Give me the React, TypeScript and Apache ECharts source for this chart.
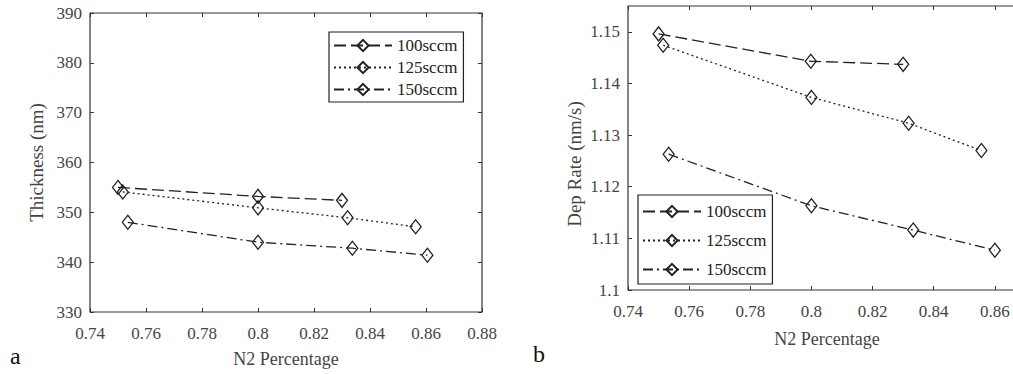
import React, { useEffect, useRef } from "react";
import * as echarts from "echarts";

const seriesNames = ["100sccm", "125sccm", "150sccm"];

// Panel a: Thickness (nm) vs N2 Percentage
const thick100: [number, number][] = [[0.75, 355.0], [0.8, 353.2], [0.83, 352.4]];
const thick125: [number, number][] = [[0.7517, 354.1], [0.8, 350.9], [0.832, 348.9], [0.8563, 347.1]];
const thick150: [number, number][] = [[0.7535, 348.0], [0.8, 344.0], [0.8337, 342.8], [0.8605, 341.4]];

// Panel b: Dep Rate (nm/s) vs N2 Percentage
const rate100: [number, number][] = [[0.75, 1.1496], [0.7998, 1.1443], [0.83, 1.1437]];
const rate125: [number, number][] = [[0.7515, 1.1474], [0.8, 1.1373], [0.8318, 1.1323], [0.8556, 1.127]];
const rate150: [number, number][] = [[0.7533, 1.1263], [0.8, 1.1163], [0.8333, 1.1116], [0.86, 1.1077]];

const FONT = "Liberation Serif";
const INK = "#222";
const LABEL = "#444";

const dashTypes: any[] = [[12, 5], [2, 3], [10, 4, 2, 4]];

export default function App() {
  const ref = useRef<HTMLDivElement>(null);
  useEffect(() => {
    if (!ref.current) return;
    const chart = echarts.init(ref.current, undefined, { renderer: "svg" });

    const mkX = (gridIndex: number, pos: "bottom" | "top", withLabels: boolean, name: string, gap: number, pad: number[], showMax: boolean) => ({
      type: "value",
      gridIndex,
      position: pos,
      min: 0.74,
      max: 0.88,
      interval: 0.02,
      name: withLabels ? name : "",
      nameLocation: "middle",
      nameGap: gap,
      nameTextStyle: { fontFamily: FONT, fontSize: 18, color: LABEL, padding: pad },
      axisLine: { show: false },
      axisTick: { show: true, inside: true, length: 4, lineStyle: { color: "#333", width: 1 } },
      axisLabel: { show: withLabels, fontFamily: FONT, fontSize: 17, color: LABEL, margin: 13, showMaxLabel: showMax },
      splitLine: { show: false },
    });

    const mkY = (gridIndex: number, pos: "left" | "right", withLabels: boolean, name: string, min: number, max: number, interval: number, gap: number, pad: number[]) => ({
      type: "value",
      gridIndex,
      position: pos,
      min,
      max,
      interval,
      name: withLabels ? name : "",
      nameLocation: "middle",
      nameGap: gap,
      nameTextStyle: { fontFamily: FONT, fontSize: 19, color: LABEL, padding: pad },
      axisLine: { show: false },
      axisTick: { show: true, inside: true, length: 4, lineStyle: { color: "#333", width: 1 } },
      axisLabel: { show: withLabels, fontFamily: FONT, fontSize: 17, color: LABEL, margin: 8, showMaxLabel: max === 390 },
      splitLine: { show: false },
    });

    const mkSeries = (name: string, idx: number, data: [number, number][], axisIndex: number) => ({
      type: "line",
      name,
      data,
      xAxisIndex: axisIndex,
      yAxisIndex: axisIndex,
      symbol: "diamond",
      symbolSize: [11, 14],
      showSymbol: true,
      itemStyle: { color: "rgba(255,255,255,0)", borderColor: INK, borderWidth: 1.3 },
      lineStyle: { color: INK, width: 1.3, type: dashTypes[idx] },
      emphasis: { disabled: true },
    });

    const legendBase = {
      orient: "vertical",
      selectedMode: false,
      data: seriesNames,
      itemWidth: 58,
      itemHeight: 14,
      borderColor: INK,
      borderWidth: 1.2,
      backgroundColor: "#fff",
      textStyle: { fontFamily: FONT, fontSize: 17, color: INK },
    };

    chart.setOption({
      animation: false,
      backgroundColor: "#fff",
      textStyle: { fontFamily: FONT },
      grid: [
        { left: 90, top: 13, width: 392, height: 299, show: true, borderColor: "#333", borderWidth: 1.2, backgroundColor: "transparent", outerBoundsMode: "none" },
        { left: 628, top: 6, width: 428, height: 284, show: true, borderColor: "#333", borderWidth: 1.2, backgroundColor: "transparent", outerBoundsMode: "none" },
      ],
      xAxis: [
        mkX(0, "bottom", true, "N2 Percentage", 38, [0, 0, 0, 0], true),
        mkX(0, "top", false, "", 0, [0, 0, 0, 0], true),
        mkX(1, "bottom", true, "N2 Percentage", 40, [0, 30, 0, 0], false),
        mkX(1, "top", false, "", 0, [0, 0, 0, 0], false),
      ],
      yAxis: [
        mkY(0, "left", true, "Thickness (nm)", 330, 390, 10, 44, [0, 0, 0, 0]),
        mkY(0, "right", false, "", 330, 390, 10, 0, [0, 0, 0, 0]),
        mkY(1, "left", true, "Dep Rate (nm/s)", 1.1, 1.155, 0.01, 44, [0, 32, 0, 0]),
        mkY(1, "right", false, "", 1.1, 1.155, 0.01, 0, [0, 0, 0, 0]),
      ],
      legend: [
        { ...legendBase, left: 329, top: 32, padding: [5, 6, 4, 4], itemGap: 5 },
        { ...legendBase, left: 638, top: 195, padding: [8, 6, 6, 4], itemGap: 12 },
      ],
      series: [
        mkSeries(seriesNames[0], 0, thick100, 0),
        mkSeries(seriesNames[1], 1, thick125, 0),
        mkSeries(seriesNames[2], 2, thick150, 0),
        mkSeries(seriesNames[0], 0, rate100, 2),
        mkSeries(seriesNames[1], 1, rate125, 2),
        mkSeries(seriesNames[2], 2, rate150, 2),
      ],
      graphic: [
        { type: "text", left: 10, top: 344, style: { text: "a", fontFamily: FONT, fontSize: 24, fill: "#111" } },
        { type: "text", left: 533, top: 342, style: { text: "b", fontFamily: FONT, fontSize: 24, fill: "#111" } },
      ],
    } as any);

    return () => chart.dispose();
  }, []);

  return <div ref={ref} style={{ position: "fixed", left: 0, top: 0, width: 1013, height: 374 }} />;
}
